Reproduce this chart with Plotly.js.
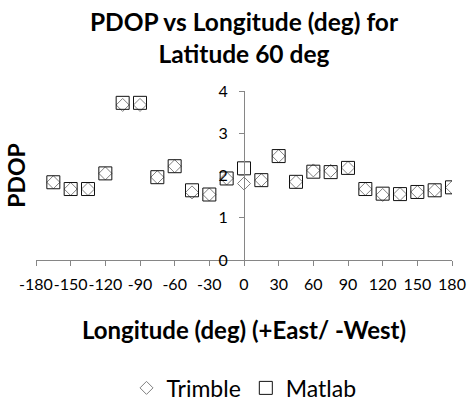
<!DOCTYPE html>
<html><head><meta charset="utf-8">
<script src="https://cdn.plot.ly/plotly-3.0.1.min.js"></script>
<style>html,body{margin:0;padding:0;background:#fff;}#chart{width:470px;height:402px;}</style>
</head><body><div id="chart"></div>
<script>
var longitude = [-165,-150,-135,-120,-105,-90,-75,-60,-45,-30,-15,0,15,30,45,60,75,90,105,120,135,150,165,180];
var trimblePdop = [1.84,1.68,1.68,2.05,3.67,3.67,1.96,2.22,1.60,1.55,1.93,1.81,1.89,2.46,1.85,2.12,2.11,2.18,1.68,1.54,1.56,1.61,1.65,1.72];
var matlabPdop = [1.84,1.68,1.68,2.05,3.72,3.72,1.96,2.22,1.65,1.55,1.93,2.17,1.89,2.46,1.85,2.09,2.08,2.18,1.68,1.57,1.56,1.61,1.65,1.72];
var xTicks = [-180,-150,-120,-90,-60,-30,0,30,60,90,120,150,180];
var yTicks = [0,1,2,3,4];

var FONT = 'Lato, "Open Sans", sans-serif';
var traces = [
  {x: longitude, y: trimblePdop, name: 'Trimble', type: 'scatter', mode: 'markers',
   marker: {symbol: 'diamond-open', size: 10, color: '#808080', line: {width: 1, color: '#808080'}}},
  {x: longitude, y: matlabPdop, name: 'Matlab', type: 'scatter', mode: 'markers',
   marker: {symbol: 'square-open', size: 13, color: '#111111', line: {width: 1, color: '#111111'}}}
];
var layout = {
  width: 470, height: 402,
  margin: {l: 36, r: 18, t: 91, b: 142},
  paper_bgcolor: '#fff', plot_bgcolor: '#fff',
  font: {family: FONT, color: '#000', size: 16},
  showlegend: true,
  title: {text: 'PDOP vs Longitude (deg) for<br>Latitude 60 deg', x: 0.5, xanchor: 'center', xref: 'paper',
          yref: 'container', y: 0.923, yanchor: 'top', automargin: false,
          font: {family: FONT, size: 24.5, color: '#000', weight: 'bold'}},
  xaxis: {range: [-180, 180], tickmode: 'array', tickvals: xTicks, ticktext: xTicks.map(String), automargin: false,
          tickangle: 0,
          showline: true, linecolor: '#868686', linewidth: 1, ticks: 'outside', ticklen: 5, tickcolor: '#868686',
          showgrid: false, zeroline: false, tickfont: {size: 16, color: '#000'}, ticklabelstandoff: 5,
          title: {text: 'Longitude (deg) (+East/ -West)', standoff: 29, font: {size: 24, weight: 'bold', color: '#000'}}},
  yaxis: {range: [0, 4], tickmode: 'array', tickvals: yTicks, anchor: 'free', position: 0.5, automargin: false,
          showline: true, linecolor: '#868686', linewidth: 1, ticks: 'outside', ticklen: 5, tickcolor: '#868686',
          showgrid: false, zeroline: false, tickfont: {size: 16, color: '#000'}, ticklabelstandoff: 8},
  annotations: [{text: 'PDOP', textangle: -90, xref: 'paper', yref: 'paper', x: -0.05, y: 0.5,
                 xanchor: 'center', yanchor: 'middle', showarrow: false, font: {family: FONT, size: 23, weight: 'bold', color: '#000'}}],
  legend: {orientation: 'h', x: 0.5, xanchor: 'center', xref: 'paper', yref: 'container', y: 0.035, yanchor: 'middle',
           font: {size: 23, color: '#000'}}
};
Plotly.newPlot('chart', traces, layout, {displayModeBar: false, staticPlot: true});
</script></body></html>
